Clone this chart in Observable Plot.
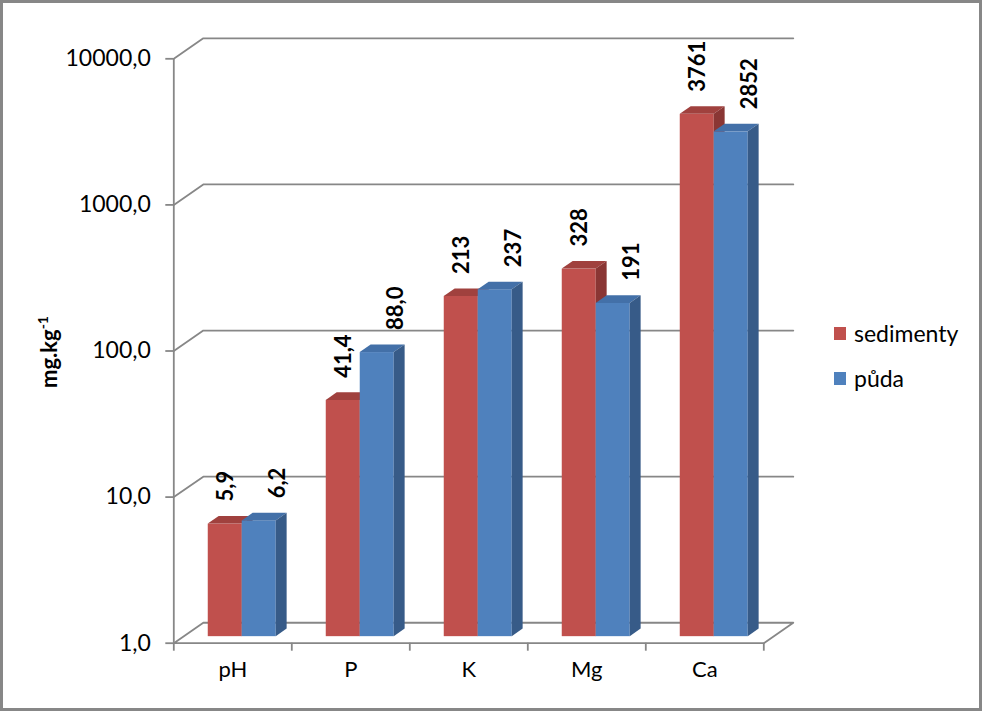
<!DOCTYPE html>
<html><head><meta charset="utf-8">
<script src="https://cdn.jsdelivr.net/npm/d3@7"></script>
<script src="https://cdn.jsdelivr.net/npm/@observablehq/plot@0.6"></script>
<style>
body{margin:0;background:#fff;font-family:Lato,"Open Sans",sans-serif;}
#wrap{position:relative;width:982px;height:711px;overflow:hidden;}
#wrap svg{display:block;}
#frame{position:absolute;left:0;top:0;width:982px;height:711px;box-sizing:border-box;border:3px solid #878787;pointer-events:none;}
#ytitle{position:absolute;left:48px;top:352px;transform:translate(-50%,-50%) rotate(-90deg);font-weight:bold;font-size:22px;white-space:nowrap;color:#000;}
#ytitle sup{font-size:14px;}
.leg{position:absolute;left:834px;display:flex;align-items:center;font-size:23px;color:#000;}
.leg span.sw{display:inline-block;width:12px;height:13px;margin-right:8px;}
</style>
</head><body>
<div id="wrap"></div>
<script>
// ---- data ----
const categories = ["pH", "P", "K", "Mg", "Ca"];
const seriesNames = ["sedimenty", "půda"];
const sedimenty = [5.9, 41.4, 213, 328, 3761];
const puda = [6.2, 88.0, 237, 191, 2852];
const sedimentyLabels = ["5,9", "41,4", "213", "328", "3761"];
const pudaLabels = ["6,2", "88,0", "237", "191", "2852"];
const yTicks = [1, 10, 100, 1000, 10000];
const xTicks = [0, 1, 2, 3, 4, 5];

// ---- styles ----
const frontColors = ["#C0504D", "#4F81BD"];
const topColors = ["#A0413E", "#4370A8"];
const sideColors = ["#8A3634", "#375B88"];
const gray = "#878787";

// ---- 3D geometry (layout) ----
const DX = 0.25;                 // depth in x units
const F = Math.pow(10, 0.14);    // depth in y (multiplicative on log scale)
const P0 = 0.32, P1 = 0.69;      // bar front / back depth fractions
const W = 0.288;                 // bar width in x units
const labelDx = [1, 19];         // label horizontal nudge per series (px)

const values = [sedimenty, puda];
const labels = [sedimentyLabels, pudaLabels];
const rows = [];
categories.forEach((c, i) => {
  [0, 1].forEach(s => {
    const xl = i + 0.5 - W + s * W;
    rows.push({id: c + s, cat: c, s, v: values[s][i], label: labels[s][i], xl, xr: xl + W});
  });
});

const topPts = rows.flatMap(d => [
  {id: d.id, s: d.s, y: d.v * F ** P0, x1: d.xl + P0 * DX, x2: d.xr + P0 * DX},
  {id: d.id, s: d.s, y: d.v * F ** P1, x1: d.xl + P1 * DX, x2: d.xr + P1 * DX}
]);
const sidePts = rows.flatMap(d => [
  {id: d.id, s: d.s, x: d.xr + P0 * DX, y1: F ** P0, y2: d.v * F ** P0},
  {id: d.id, s: d.s, x: d.xr + P1 * DX, y1: F ** P1, y2: d.v * F ** P1}
]);
const gridPts = yTicks.slice(1).flatMap(t => [
  {t, x: 0, y: t}, {t, x: DX, y: t * F}, {t, x: 5 + DX, y: t * F}
]);
const floorPts = [
  {x: 0, y: 1}, {x: DX, y: F}, {x: 5 + DX, y: F}, {x: 5, y: 1}, {x: 0, y: 1}
];

const barMarks = [0, 1].flatMap(s => [
  Plot.rect(rows.filter(d => d.s === s), {
    x1: d => d.xl + P0 * DX, x2: d => d.xr + P0 * DX,
    y1: () => F ** P0, y2: d => d.v * F ** P0, fill: frontColors[s]
  }),
  Plot.areaX(topPts.filter(d => d.s === s), {y: "y", x1: "x1", x2: "x2", z: "id", fill: topColors[s]}),
  Plot.areaY(sidePts.filter(d => d.s === s), {x: "x", y1: "y1", y2: "y2", z: "id", fill: sideColors[s]})
]);

const labelMarks = [0, 1].map(s =>
  Plot.text(rows.filter(d => d.s === s), {
    x: d => (d.xl + d.xr) / 2 + P0 * DX, y: d => d.v * F ** P1,
    text: "label", rotate: -90, textAnchor: "start", dy: -15, dx: labelDx[s],
    fontSize: 22, fontWeight: "bold", fill: "#000"
  })
);

const chart = Plot.plot({
  width: 982, height: 711,
  marginLeft: 173.3, marginRight: 218.7, marginTop: 58.3, marginBottom: 68.3,
  style: {fontFamily: "Lato, 'Open Sans', sans-serif", background: "white", color: "#000"},
  x: {type: "linear", domain: [0, 5]},
  y: {type: "log", domain: [1, 10000]},
  marks: [
    Plot.line(gridPts, {x: "x", y: "y", z: "t", stroke: gray, strokeWidth: 1.8}),
    Plot.line(floorPts, {x: "x", y: "y", stroke: gray, strokeWidth: 1.8}),
    Plot.ruleX([0], {y1: 1, y2: 10000, stroke: gray, strokeWidth: 1.8}),
    Plot.axisY({ticks: yTicks, tickSize: 8, tickPadding: 15, tickFormat: d => d.toFixed(1).replace(".", ","),
      fontSize: 23, stroke: gray, strokeWidth: 1.8, fill: "#000", label: null}),
    Plot.axisX({ticks: xTicks, tickSize: 8, tickFormat: () => "", stroke: gray, strokeWidth: 1.8, label: null}),
    Plot.text(categories, {x: (d, i) => i + 0.5, frameAnchor: "bottom", dy: 34, text: d => d, fontSize: 22, fill: "#000"}),
    ...barMarks,
    ...labelMarks
  ]
});

const wrap = document.getElementById("wrap");
wrap.appendChild(chart);

const yt = document.createElement("div");
yt.id = "ytitle";
yt.innerHTML = "mg.kg<sup>-1</sup>";
wrap.appendChild(yt);

seriesNames.forEach((n, s) => {
  const el = document.createElement("div");
  el.className = "leg";
  el.style.top = (318 + s * 45) + "px";
  el.style.height = "30px";
  el.innerHTML = `<span class="sw" style="background:${frontColors[s]}"></span><span>${n}</span>`;
  wrap.appendChild(el);
});

const fr = document.createElement("div");
fr.id = "frame";
wrap.appendChild(fr);
</script>
</body></html>
